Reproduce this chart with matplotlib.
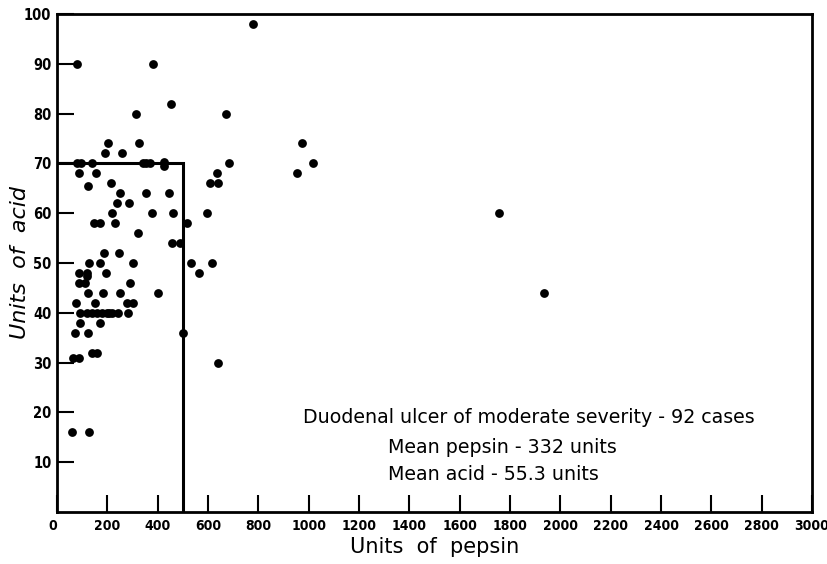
import matplotlib
matplotlib.use("Agg")
import matplotlib.pyplot as plt

# duodenal ulcer cases, pepsin units vs acid units
PEPSIN = [80, 383, 780,
          454, 316, 670,
          201, 326, 974,
          192, 257,
          78, 96, 138, 340, 355, 368, 427, 427, 685, 1017,
          88, 155, 635, 954,
          123, 214, 609, 638,
          250, 354, 447,
          237, 288,
          220, 377, 462, 598, 1755,
          146, 170, 231, 515,
          322,
          458, 487,
          186, 246,
          128, 170, 302, 531, 616,
          88, 120, 195, 564,
          120,
          86, 111, 290,
          124, 184, 251, 403, 1934,
          74, 150, 279, 301,
          91, 118, 138, 158, 178, 198, 208, 218, 244, 284,
          92, 171,
          71, 123, 500,
          138, 158,
          65, 89,
          640,
          58, 126]
ACID = [90, 90, 98,
        82, 80, 80,
        74, 74, 74,
        72, 72,
        70, 70, 70, 70, 70, 70, 70.2, 69.5, 70, 70,
        68, 68, 68, 68,
        65.5, 66, 66, 66,
        64, 64, 64,
        62, 62,
        60, 60, 60, 60, 60,
        58, 58, 58, 58,
        56,
        54, 54,
        52, 52,
        50, 50, 50, 50, 50,
        48, 48, 48, 48,
        47.3,
        46, 46, 46,
        44, 44, 44, 44, 44,
        42, 42, 42, 42,
        40, 40, 40, 40, 40, 40, 40, 40, 40, 40,
        38, 38,
        36, 36, 36,
        32, 32,
        31, 31,
        30,
        16, 16]

BOX_X = [0, 500, 500]
BOX_Y = [70, 70, 0]

XTICKS = list(range(0, 3001, 200))
YTICKS = list(range(10, 101, 10))

NOTE = ["Duodenal ulcer of moderate severity - 92 cases",
        "Mean pepsin - 332 units",
        "Mean acid - 55.3 units"]

fig = plt.figure(figsize=(8.28, 5.64), dpi=100)
ax = fig.add_axes([0.0688, 0.0922, 0.9119, 0.883])

ax.plot(BOX_X, BOX_Y, color="black", lw=2.2, solid_joinstyle="miter")
ax.scatter(PEPSIN, ACID, s=40, color="black", zorder=3, linewidths=0)

ax.set_xlim(0, 3000)
ax.set_ylim(0, 100)
for s in ax.spines.values():
    s.set_linewidth(2)

ax.set_xticks(XTICKS)
ax.set_xticklabels([str(v) for v in XTICKS], fontsize=10, fontweight="bold",
                   fontstretch="condensed")
ax.set_yticks(YTICKS)
ax.set_yticklabels([str(v) for v in YTICKS], fontsize=10.5, fontweight="bold",
                   fontstretch="condensed")
ax.tick_params(direction="in", length=12, width=1.5, pad=5)
ax.tick_params(axis="y", pad=4)
ax.get_xticklabels()[0].set_horizontalalignment("right")

ax.set_xlabel("Units  of  pepsin", fontsize=15)
ax.xaxis.set_label_coords(0.5, -0.05)
ax.set_ylabel("Units  of  acid", fontsize=16, style="italic")
ax.yaxis.set_label_coords(-0.036, 0.5)

ax.text(979, 18.9, NOTE[0], fontsize=13.7, va="center", ha="left")
ax.text(1317, 12.9, NOTE[1], fontsize=13.7, va="center", ha="left")
ax.text(1317, 7.6, NOTE[2], fontsize=13.7, va="center", ha="left")

fig.savefig("out.png", dpi=100)
